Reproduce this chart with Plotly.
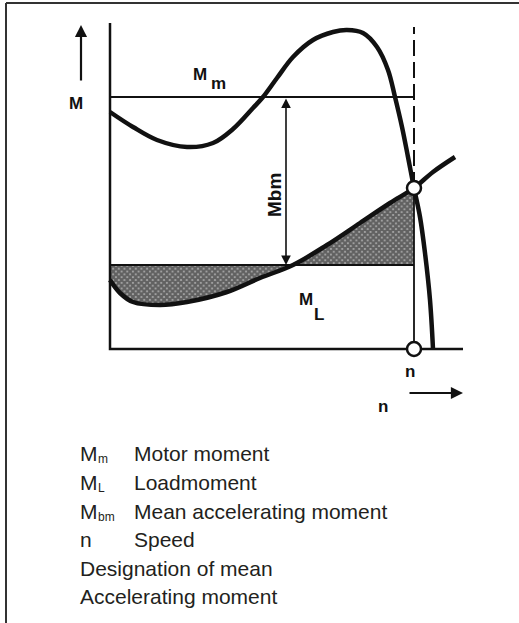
import numpy as np
import plotly.graph_objects as go

# diagram data: speed n (x) and moment M (y), in diagram units
motor_n = [0, 23, 47, 77, 103, 123, 143, 153, 167, 183, 203, 223, 237, 253, 267, 278, 285, 292, 298, 304, 310, 315, 320, 323]
motor_M = [237, 222, 209, 202, 206, 220, 241, 252, 271, 292, 309, 317, 319, 316, 302, 279, 252, 222, 192, 161, 132, 96, 49, 0]

load_n = [0, 10, 23, 50, 77, 117, 150, 183, 217, 250, 280, 304, 323, 345]
load_M = [69, 56, 47, 44, 47, 57, 71, 84, 104, 126, 146, 161, 177, 192]

M_mean_motor = 252   # M_m
M_mean_load = 84     # level of the mean accelerating moment base
n_cross = 183        # where load curve crosses the mean line
n_rated = 304        # operating point speed
M_rated = 161        # operating point moment
n_max = 353
M_max = 326
M_dash_top = 322
mbm_n = 176

legend_symbols = ['M', 'M', 'M', 'n', 'Designation of mean', 'Accelerating moment']
legend_subs = ['m', 'L', 'bm', '', '', '']
legend_texts = ['Motor moment', 'Loadmoment', 'Mean accelerating moment', 'Speed', '', '']

W, H = 519, 623
BLACK = '#111111'
TXT = '#231f20'

fig = go.Figure()

# hatched areas between load curve and mean line
ln = np.array(load_n)
lm = np.array(load_M)
left = ln <= n_cross
right = (ln >= n_cross) & (ln <= n_rated)
hatch = dict(shape='x', fgcolor=BLACK, bgcolor='#b0b0b0', size=4, solidity=0.8)
fig.add_trace(go.Scatter(
    x=np.concatenate([ln[left], [n_cross, 0]]),
    y=np.concatenate([lm[left], [M_mean_load, M_mean_load]]),
    fill='toself', fillpattern=hatch, line=dict(width=0), mode='lines', line_shape='spline'
))
fig.add_trace(go.Scatter(
    x=np.concatenate([ln[right], [n_rated, n_cross]]),
    y=np.concatenate([lm[right], [M_mean_load, M_mean_load]]),
    fill='toself', fillpattern=hatch, line=dict(width=0), mode='lines'
))

# axes of the diagram
fig.add_trace(go.Scatter(x=[0, 0, n_max], y=[M_max, 0, 0], mode='lines',
                         line=dict(color=BLACK, width=2.5)))
# mean lines
fig.add_trace(go.Scatter(x=[0, n_rated], y=[M_mean_motor, M_mean_motor], mode='lines',
                         line=dict(color=BLACK, width=1.8)))
fig.add_trace(go.Scatter(x=[0, n_rated], y=[M_mean_load, M_mean_load], mode='lines',
                         line=dict(color=BLACK, width=1.8)))
# vertical at operating speed
fig.add_trace(go.Scatter(x=[n_rated, n_rated], y=[0, M_rated], mode='lines',
                         line=dict(color=BLACK, width=1.8)))
fig.add_trace(go.Scatter(x=[n_rated, n_rated], y=[M_rated, M_dash_top], mode='lines',
                         line=dict(color=BLACK, width=2, dash='16px,6px')))

# curves
fig.add_trace(go.Scatter(x=motor_n, y=motor_M, mode='lines', line_shape='spline',
                         line=dict(color=BLACK, width=4.5)))
fig.add_trace(go.Scatter(x=load_n, y=load_M, mode='lines', line_shape='spline',
                         line=dict(color=BLACK, width=4.5)))

# operating point markers
fig.add_trace(go.Scatter(x=[n_rated, n_rated], y=[M_rated, 0], mode='markers',
                         marker=dict(size=14, color='white', line=dict(color=BLACK, width=2.5))))

# arrows
arrow_common = dict(xref='x', yref='y', axref='x', ayref='y', text='', showarrow=True,
                    arrowcolor=BLACK, arrowhead=2, standoff=0, startstandoff=0)
fig.add_annotation(x=-29, y=324, ax=-29, ay=267, arrowwidth=2.2, arrowsize=1.1, **arrow_common)
fig.add_annotation(x=n_max, y=-44, ax=298, ay=-44, arrowwidth=2.2, arrowsize=1.1, **arrow_common)
fig.add_annotation(x=mbm_n, y=M_mean_load, ax=mbm_n, ay=M_mean_motor, arrowside='end+start',
                   arrowwidth=1.6, arrowsize=1.2, **arrow_common)

# diagram labels
lab = dict(xref='x', yref='y', showarrow=False,
           font=dict(family='Liberation Sans', size=17, color=BLACK))
fig.add_annotation(x=-34, y=246, text='<b>M</b>', **lab)
fig.add_annotation(x=90, y=275, text='<b>M</b>', **lab)
fig.add_annotation(x=108, y=266, text='<b>m</b>', **lab)
fig.add_annotation(x=164, y=154, text='<b>Mbm</b>', textangle=-90,
                   xref='x', yref='y', showarrow=False,
                   font=dict(family='Liberation Sans', size=19, color=BLACK))
fig.add_annotation(x=196, y=50, text='<b>M</b>', **lab)
fig.add_annotation(x=209, y=35, text='<b>L</b>', **lab)
fig.add_annotation(x=300, y=-22, text='<b>n</b>', **lab)
fig.add_annotation(x=273, y=-57, text='<b>n</b>', **lab)

# legend block below the diagram
baselines = [460, 489, 518, 546, 575, 603]
for sym, sub, desc, base in zip(legend_symbols, legend_subs, legend_texts, baselines):
    yc = 1 - (base - 7) / H
    fig.add_annotation(xref='paper', yref='paper', x=78 / W, y=yc, xanchor='left', yanchor='middle',
                       text=sym, showarrow=False,
                       font=dict(family='Liberation Sans', size=21, color=TXT))
    if sub:
        fig.add_annotation(xref='paper', yref='paper', x=96 / W, y=1 - (base - 1) / H,
                           xanchor='left', yanchor='middle', text=sub, showarrow=False,
                           font=dict(family='Liberation Sans', size=12, color=TXT))
    if desc:
        fig.add_annotation(xref='paper', yref='paper', x=132 / W, y=yc, xanchor='left', yanchor='middle',
                           text=desc, showarrow=False,
                           font=dict(family='Liberation Sans', size=21, color=TXT))

# frame
fig.add_shape(type='line', xref='paper', yref='paper', x0=6 / W, x1=1, y0=1 - 3 / H, y1=1 - 3 / H,
              line=dict(color='#333333', width=2))
fig.add_shape(type='line', xref='paper', yref='paper', x0=6 / W, x1=6 / W, y0=0, y1=1 - 3 / H,
              line=dict(color='#333333', width=2))

fig.update_layout(
    width=W, height=H, autosize=False,
    margin=dict(l=0, r=0, t=0, b=0),
    paper_bgcolor='white', plot_bgcolor='white',
    showlegend=False,
)
fig.update_xaxes(range=[-110, 409], visible=False, fixedrange=True, domain=[0, 1])
fig.update_yaxes(range=[-274, 349], visible=False, fixedrange=True, domain=[0, 1])

fig.write_html("out.html", config={'displayModeBar': False},
               post_script="document.body.style.margin='0px';")
